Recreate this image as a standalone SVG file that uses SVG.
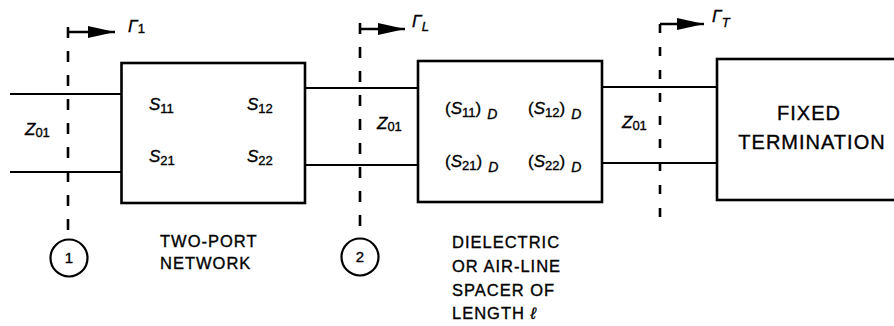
<svg xmlns="http://www.w3.org/2000/svg" width="894" height="326" viewBox="0 0 894 326">
<style>
.box{fill:#fff;stroke:#000;stroke-width:2.6}
.ln{fill:none;stroke:#000;stroke-width:2.2}
.dash{fill:none;stroke:#000;stroke-width:2.6;stroke-dasharray:11 13}
.arr{fill:none;stroke:#000;stroke-width:2.6}
text{font-family:"Liberation Sans",Arial,sans-serif;fill:#000;stroke:#000;stroke-width:0.35}
.cap{font-size:16.5px;letter-spacing:1px}
.big{font-size:20px;letter-spacing:1px;text-anchor:middle}
.sym{font-size:17px}
.it{font-style:italic}
.sub{font-size:13px}
.num{font-size:15px;text-anchor:middle}
.circ{fill:#fff;stroke:#000;stroke-width:2.2}
</style>
<defs>
<marker id="ah" viewBox="0 0 27 12" refX="27" refY="6" markerWidth="27" markerHeight="12" markerUnits="userSpaceOnUse" orient="auto">
<path d="M0,0 L27,6 L0,12 z" fill="#000"/>
</marker>
</defs>
<g id="connectors">
<path class="ln" d="M10 94 H122 M10 172 H122"/>
<path class="ln" d="M305 88 H418 M305 165 H418"/>
<path class="ln" d="M602 87 H717 M602 163 H717"/>
<path class="dash" d="M68 27 V230"/>
<path class="dash" d="M360 23 V227"/>
<path class="dash" d="M660 24 V225" style="stroke-dasharray:9 14"/>
<path class="arr" d="M68 32 H115" marker-end="url(#ah)"/>
<path class="arr" d="M360 29 H405" marker-end="url(#ah)"/>
<path class="arr" d="M660 24 H704" marker-end="url(#ah)"/>
</g>
<g id="gamma-labels">
<text class="sym" x="128" y="32"><tspan class="it">Γ</tspan><tspan class="sub" dy="1">1</tspan></text>
<text class="sym" x="412" y="27"><tspan class="it">Γ</tspan><tspan class="sub it" dy="4">L</tspan></text>
<text class="sym" x="712" y="22"><tspan class="it">Γ</tspan><tspan class="sub it" dy="5">T</tspan></text>
</g>
<g id="z-labels">
<text class="sym" x="25" y="135"><tspan class="it">Z</tspan><tspan class="sub" dy="2">01</tspan></text>
<text class="sym" x="377" y="129"><tspan class="it">Z</tspan><tspan class="sub" dy="2">01</tspan></text>
<text class="sym" x="622" y="128"><tspan class="it">Z</tspan><tspan class="sub" dy="2">01</tspan></text>
</g>
<g id="two-port">
<rect class="box" x="121.5" y="63" width="183.5" height="140"/>
<text class="sym" x="149" y="110"><tspan class="it">S</tspan><tspan class="sub" dy="3">11</tspan></text>
<text class="sym" x="247" y="110"><tspan class="it">S</tspan><tspan class="sub" dy="3">12</tspan></text>
<text class="sym" x="149" y="162"><tspan class="it">S</tspan><tspan class="sub" dy="3">21</tspan></text>
<text class="sym" x="247" y="162"><tspan class="it">S</tspan><tspan class="sub" dy="3">22</tspan></text>
<text class="cap" x="160" y="247">TWO-PORT</text>
<text class="cap" x="160" y="269">NETWORK</text>
</g>
<g id="spacer">
<rect class="box" x="418" y="61" width="184" height="141"/>
<text class="sym" x="445" y="114">(<tspan class="it">S</tspan><tspan class="sub" dy="3">11</tspan><tspan dy="-3">)</tspan><tspan class="it" font-size="14" dx="6" dy="5">D</tspan></text>
<text class="sym" x="528" y="114">(<tspan class="it">S</tspan><tspan class="sub" dy="3">12</tspan><tspan dy="-3">)</tspan><tspan class="it" font-size="14" dx="6" dy="5">D</tspan></text>
<text class="sym" x="445" y="167">(<tspan class="it">S</tspan><tspan class="sub" dy="3">21</tspan><tspan dy="-3">)</tspan><tspan class="it" font-size="14" dx="6" dy="5">D</tspan></text>
<text class="sym" x="528" y="167">(<tspan class="it">S</tspan><tspan class="sub" dy="3">22</tspan><tspan dy="-3">)</tspan><tspan class="it" font-size="14" dx="6" dy="5">D</tspan></text>
<text class="cap" x="452" y="248">DIELECTRIC</text>
<text class="cap" x="452" y="272">OR AIR-LINE</text>
<text class="cap" x="452" y="296">SPACER OF</text>
<text class="cap" x="452" y="319">LENGTH <tspan class="it">ℓ</tspan></text>
</g>
<g id="termination">
<rect class="box" x="717" y="59" width="190" height="141"/>
<text class="big" x="809" y="120">FIXED</text>
<text class="big" x="812" y="149">TERMINATION</text>
</g>
<g id="port1">
<circle class="circ" cx="69" cy="258" r="18.5"/>
<text class="num" x="69" y="263">1</text>
</g>
<g id="port2">
<circle class="circ" cx="360" cy="257" r="18.5"/>
<text class="num" x="360" y="262">2</text>
</g>
</svg>
